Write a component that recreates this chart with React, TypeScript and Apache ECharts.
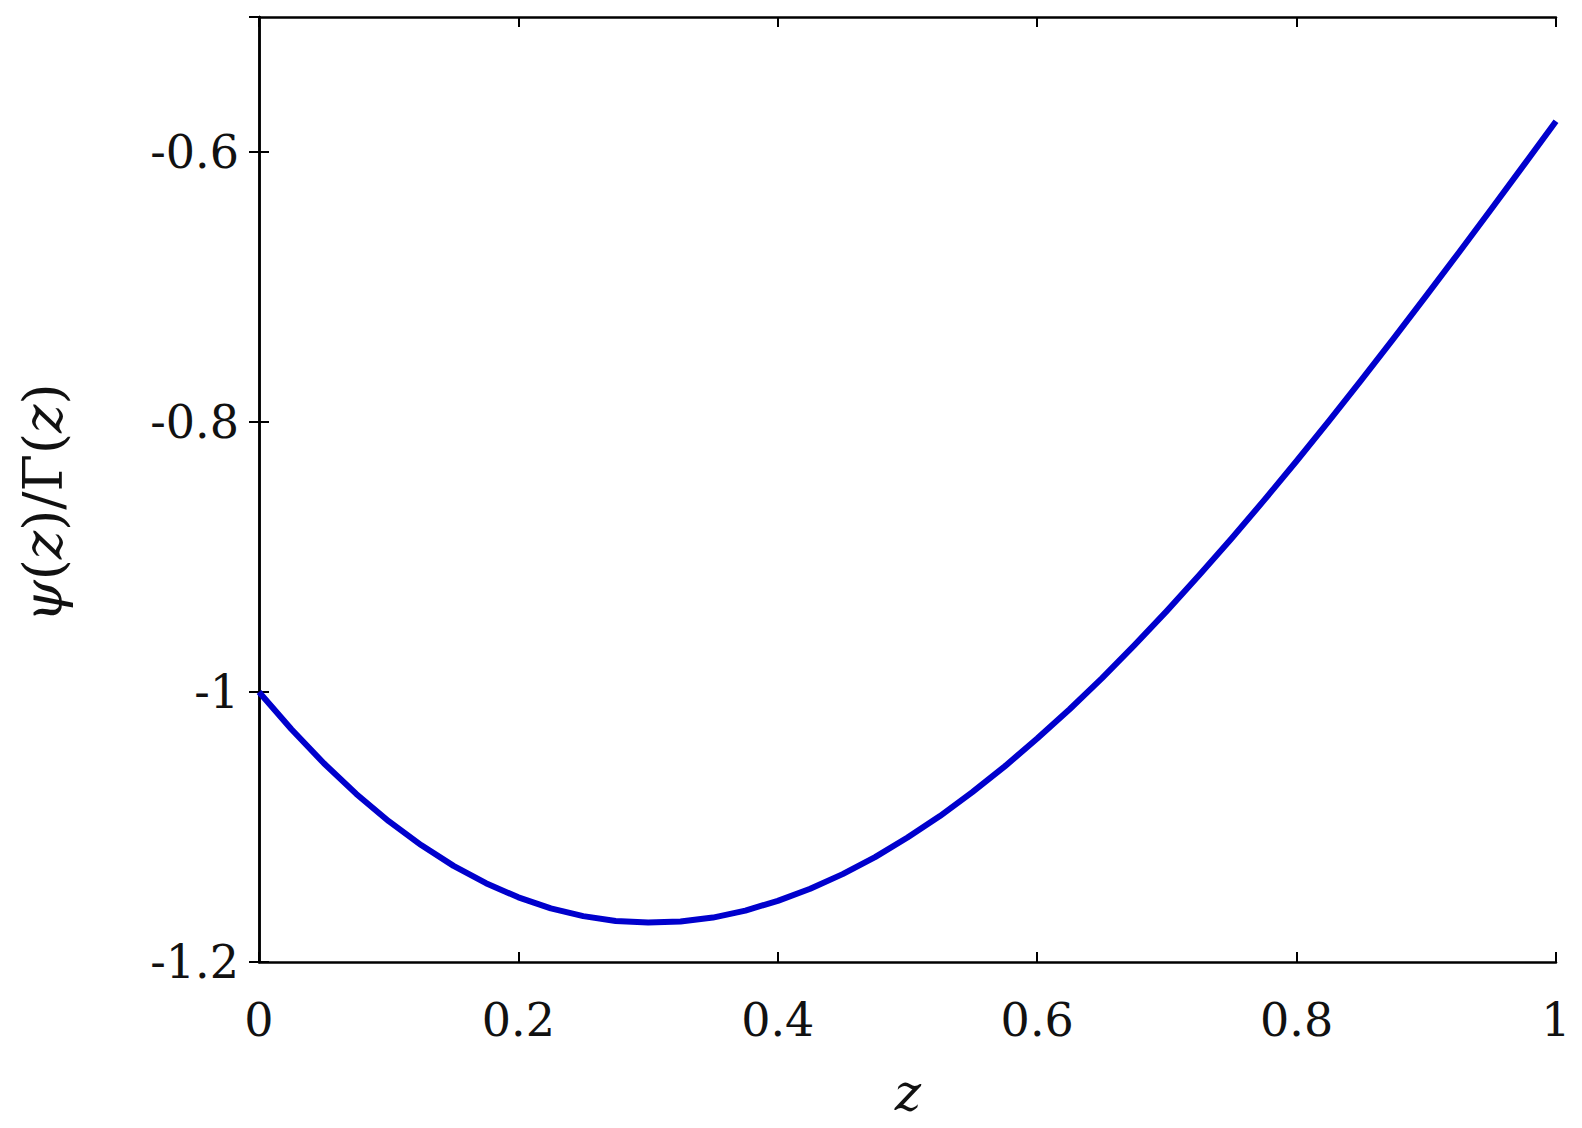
import React, { useEffect, useRef } from "react";
import * as echarts from "echarts";

const zValues = [
  0, 0.025, 0.05, 0.075, 0.1, 0.125, 0.15, 0.175, 0.2, 0.225, 0.25, 0.275, 0.3, 0.325, 0.35, 0.375, 0.4,
  0.425, 0.45, 0.475, 0.5, 0.525, 0.55, 0.575, 0.6, 0.625, 0.65, 0.675, 0.7, 0.725, 0.75, 0.775, 0.8,
  0.825, 0.85, 0.875, 0.9, 0.925, 0.95, 0.975, 1,
];
const ratioValues = [
  -1.0, -1.0276, -1.0528, -1.0755, -1.0957, -1.1134, -1.1288, -1.1416, -1.1521, -1.1603, -1.166, -1.1696,
  -1.1708, -1.17, -1.1671, -1.1619, -1.1547, -1.1457, -1.1349, -1.1223, -1.1078, -1.0919, -1.0742, -1.0551,
  -1.0345, -1.0128, -0.9897, -0.9653, -0.9399, -0.9134, -0.8861, -0.8579, -0.8289, -0.7992, -0.7688,
  -0.7379, -0.7064, -0.6746, -0.6424, -0.6099, -0.5772,
];

const xName = "z";
const yNameRich = "{i|ψ}({i|z})/Γ({i|z})";

const FONT = '"DejaVu Serif", "Liberation Serif", serif';

export default function App() {
  const ref = useRef<HTMLDivElement>(null);
  useEffect(() => {
    document.body.style.margin = "0";
    const chart = echarts.init(ref.current!, null, { renderer: "svg" });
    const grid = { left: 259, top: 17, right: 26, bottom: 166 };
    const axisLine = { show: true, lineStyle: { color: "#000", width: 2.5 } };
    const tick = { show: true, inside: true, length: 10, lineStyle: { color: "#000", width: 2 } };
    chart.setOption({
      animation: false,
      backgroundColor: "#fff",
      grid: { ...grid, containLabel: false },
      xAxis: [
        {
          type: "value",
          min: 0,
          max: 1,
          interval: 0.2,
          position: "bottom",
          axisLine,
          axisTick: tick,
          axisLabel: { show: true, margin: 35, fontSize: 46, fontFamily: FONT, color: "#111" },
          splitLine: { show: false },
        },
        {
          type: "value",
          min: 0,
          max: 1,
          interval: 0.2,
          position: "top",
          axisLine,
          axisTick: tick,
          axisLabel: { show: false },
          splitLine: { show: false },
        },
      ],
      yAxis: [
        {
          type: "value",
          min: -1.2,
          max: -0.5,
          interval: 0.2,
          position: "left",
          axisLine,
          axisTick: tick,
          axisLabel: { show: true, margin: 20, fontSize: 46, fontFamily: FONT, color: "#111", showMaxLabel: false },
          splitLine: { show: false },
        },
        {
          type: "value",
          min: -1.2,
          max: -0.5,
          interval: 0.2,
          position: "right",
          axisLine,
          axisTick: tick,
          axisLabel: { show: false },
          splitLine: { show: false },
        },
      ],
      series: [
        {
          type: "line",
          xAxisIndex: 0,
          yAxisIndex: 0,
          data: zValues.map((z, i) => [z, ratioValues[i]]),
          smooth: false,
          showSymbol: false,
          symbol: "none",
          lineStyle: { color: "#0000cd", width: 6, join: "round", cap: "butt" },
        },
      ],
      graphic: [
        {
          type: "text",
          x: 908,
          y: 1093,
          style: {
            text: xName,
            fontSize: 50,
            fontFamily: FONT,
            fontStyle: "italic",
            fill: "#111",
            align: "center",
            verticalAlign: "middle",
          },
        },
        {
          type: "text",
          x: 43,
          y: 503,
          rotation: Math.PI / 2,
          style: {
            text: yNameRich,
            fontSize: 54,
            fontFamily: FONT,
            fill: "#111",
            align: "center",
            verticalAlign: "middle",
            rich: {
              i: { fontSize: 54, fontFamily: FONT, fontStyle: "italic", fill: "#111" },
            },
          },
        },
      ],
    });
    return () => chart.dispose();
  }, []);
  return <div ref={ref} style={{ position: "absolute", left: 0, top: 0, width: 1582, height: 1128 }} />;
}
